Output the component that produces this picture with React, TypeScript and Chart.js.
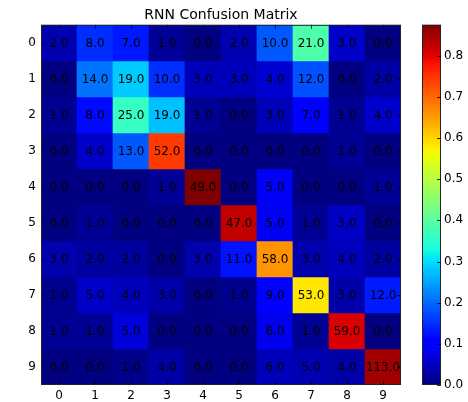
import React, { useEffect, useRef } from 'react';
import { Chart, registerables } from 'chart.js';

Chart.register(...registerables);

const FONT = "'DejaVu Sans', 'Liberation Sans', sans-serif";

const titleText = 'RNN Confusion Matrix';
const classLabels = ['0', '1', '2', '3', '4', '5', '6', '7', '8', '9'];

const row0 = [2, 8, 7, 1, 0, 2, 10, 21, 3, 0];
const row1 = [0, 14, 19, 10, 3, 3, 4, 12, 0, 2];
const row2 = [1, 8, 25, 19, 1, 0, 3, 7, 1, 4];
const row3 = [0, 4, 13, 52, 0, 0, 0, 0, 1, 0];
const row4 = [0, 0, 0, 1, 49, 0, 5, 0, 0, 1];
const row5 = [0, 1, 0, 0, 0, 47, 5, 1, 3, 0];
const row6 = [3, 2, 2, 0, 3, 11, 58, 3, 4, 2];
const row7 = [1, 5, 4, 3, 0, 1, 9, 53, 3, 12];
const row8 = [1, 1, 5, 0, 0, 0, 6, 1, 59, 0];
const row9 = [0, 0, 1, 4, 0, 0, 6, 5, 4, 113];
const confusionRows = [row0, row1, row2, row3, row4, row5, row6, row7, row8, row9];

const colorbarTicks = [0, 0.1, 0.2, 0.3, 0.4, 0.5, 0.6, 0.7, 0.8];

// row-normalised fractions
const rowFractions = confusionRows.map((row) => {
  const s = row.reduce((a, b) => a + b, 0);
  return row.map((v) => (s > 0 ? v / s : 0));
});
const vmax = Math.max(...rowFractions.map((r) => Math.max(...r)));

type Pt = [number, number];
const jetR: Pt[] = [[0, 0], [0.35, 0], [0.66, 1], [0.89, 1], [1, 0.5]];
const jetG: Pt[] = [[0, 0], [0.125, 0], [0.375, 1], [0.64, 1], [0.91, 0], [1, 0]];
const jetB: Pt[] = [[0, 0.5], [0.11, 1], [0.34, 1], [0.65, 0], [1, 0]];

function interp(x: number, pts: Pt[]): number {
  if (x <= pts[0][0]) return pts[0][1];
  for (let i = 1; i < pts.length; i++) {
    if (x <= pts[i][0]) {
      const [x0, y0] = pts[i - 1];
      const [x1, y1] = pts[i];
      return y0 + ((x - x0) / (x1 - x0)) * (y1 - y0);
    }
  }
  return pts[pts.length - 1][1];
}

function jet(t: number): string {
  const x = Math.min(1, Math.max(0, t));
  const r = Math.round(interp(x, jetR) * 255);
  const g = Math.round(interp(x, jetG) * 255);
  const b = Math.round(interp(x, jetB) * 255);
  return `rgb(${r},${g},${b})`;
}

const jetStops = [0, 0.11, 0.125, 0.34, 0.35, 0.375, 0.64, 0.65, 0.66, 0.89, 0.91, 1];

const overlayPlugin = {
  id: 'overlay',
  afterDraw(chart: any) {
    const ctx: CanvasRenderingContext2D = chart.ctx;
    const ca = chart.chartArea;
    const xs = chart.scales.x;
    const ys = chart.scales.y;
    const cb = chart.scales.cb;
    ctx.save();

    // cell annotations
    ctx.font = `12px ${FONT}`;
    ctx.textAlign = 'center';
    ctx.textBaseline = 'middle';
    ctx.fillStyle = '#000';
    confusionRows.forEach((row, r) => {
      row.forEach((v, c) => {
        ctx.fillText(v.toFixed(1), xs.getPixelForValue(c), ys.getPixelForValue(r) + 1);
      });
    });

    // inward tick marks
    ctx.strokeStyle = 'rgba(0,0,0,0.75)';
    ctx.lineWidth = 1;
    ctx.beginPath();
    classLabels.forEach((_, i) => {
      const x = Math.round(xs.getPixelForValue(i)) + 0.5;
      ctx.moveTo(x, ca.top);
      ctx.lineTo(x, ca.top + 4);
      ctx.moveTo(x, ca.bottom);
      ctx.lineTo(x, ca.bottom - 4);
      const y = Math.round(ys.getPixelForValue(i)) + 0.5;
      ctx.moveTo(ca.left, y);
      ctx.lineTo(ca.left + 4, y);
      ctx.moveTo(ca.right, y);
      ctx.lineTo(ca.right - 4, y);
    });
    ctx.stroke();

    // frame
    ctx.strokeStyle = '#222';
    ctx.strokeRect(ca.left + 0.5, ca.top + 0.5, ca.right - ca.left - 1, ca.bottom - ca.top - 1);

    // colorbar
    const cbLeft = cb.left + 21;
    const cbW = 19;
    const y0 = cb.getPixelForValue(0);
    const y1 = cb.getPixelForValue(vmax);
    const grad = ctx.createLinearGradient(0, y0, 0, y1);
    jetStops.forEach((t) => grad.addColorStop(t, jet(t)));
    ctx.fillStyle = grad;
    ctx.fillRect(cbLeft, y1, cbW, y0 - y1);
    ctx.strokeStyle = '#222';
    ctx.strokeRect(cbLeft + 0.5, y1 + 0.5, cbW - 1, y0 - y1 - 1);
    ctx.strokeStyle = 'rgba(0,0,0,0.8)';
    ctx.beginPath();
    colorbarTicks.forEach((v) => {
      const y = Math.round(cb.getPixelForValue(v)) + 0.5;
      ctx.moveTo(cbLeft + cbW, y);
      ctx.lineTo(cbLeft + cbW - 4, y);
    });
    ctx.stroke();

    ctx.restore();
  },
};

export default function App() {
  const canvasRef = useRef<HTMLCanvasElement | null>(null);

  useEffect(() => {
    if (!canvasRef.current) return;
    const datasets = confusionRows.map((row, r) => ({
      label: `row ${classLabels[r]}`,
      data: row.map(() => [r - 0.5, r + 0.5]),
      backgroundColor: rowFractions[r].map((f) => jet(f / vmax)),
      borderWidth: 0,
      barPercentage: 1,
      categoryPercentage: 1,
      grouped: false,
      yAxisID: 'y',
      xAxisID: 'x',
    }));

    const tickFont = { family: FONT, size: 12 };

    const chart = new Chart(canvasRef.current, {
      type: 'bar',
      data: { labels: classLabels, datasets: datasets as any },
      options: {
        responsive: false,
        animation: false,
        layout: { padding: { top: 0, left: 0, right: 0, bottom: 0 } },
        plugins: {
          legend: { display: false },
          tooltip: { enabled: false },
          title: {
            display: true,
            text: titleText,
            fullSize: false,
            color: '#000',
            font: { family: FONT, size: 14, weight: 'normal' as any },
            padding: { top: 7, bottom: 1 },
          },
        },
        scales: {
          x: {
            type: 'category',
            offset: true,
            grid: { display: false, drawTicks: false },
            border: { display: false },
            ticks: { color: '#000', font: tickFont, padding: 4, maxRotation: 0, autoSkip: false },
            afterFit: (s: any) => {
              s.height = 17;
              s.paddingLeft = 0;
              s.paddingRight = 0;
            },
          },
          y: {
            type: 'linear',
            reverse: true,
            min: -0.5,
            max: 9.5,
            afterBuildTicks: (s: any) => {
              s.ticks = classLabels.map((_, i) => ({ value: i }));
            },
            grid: { display: false, drawTicks: false },
            border: { display: false },
            ticks: {
              color: '#000',
              font: tickFont,
              padding: 5,
              autoSkip: false,
              callback: (v: any) => classLabels[Number(v)],
            },
            afterFit: (s: any) => {
              s.width = 41;
              s.paddingTop = 0;
              s.paddingBottom = 0;
            },
          },
          cb: {
            type: 'linear',
            position: 'right',
            min: 0,
            max: vmax,
            afterBuildTicks: (s: any) => {
              s.ticks = colorbarTicks.map((v) => ({ value: v }));
            },
            grid: { display: false, drawTicks: false },
            border: { display: false },
            ticks: {
              color: '#000',
              font: tickFont,
              padding: 43,
              autoSkip: false,
              callback: (v: any) => Number(v).toFixed(1),
            },
            afterFit: (s: any) => {
              s.width = 67;
              s.paddingTop = 0;
              s.paddingBottom = 0;
            },
          },
        } as any,
      },
      plugins: [overlayPlugin],
    });
    return () => chart.destroy();
  }, []);

  return (
    <div style={{ position: 'absolute', left: 0, top: 0, width: 468, height: 402, background: '#fff' }}>
      <canvas ref={canvasRef} width={468} height={402} style={{ display: 'block' }} />
    </div>
  );
}
